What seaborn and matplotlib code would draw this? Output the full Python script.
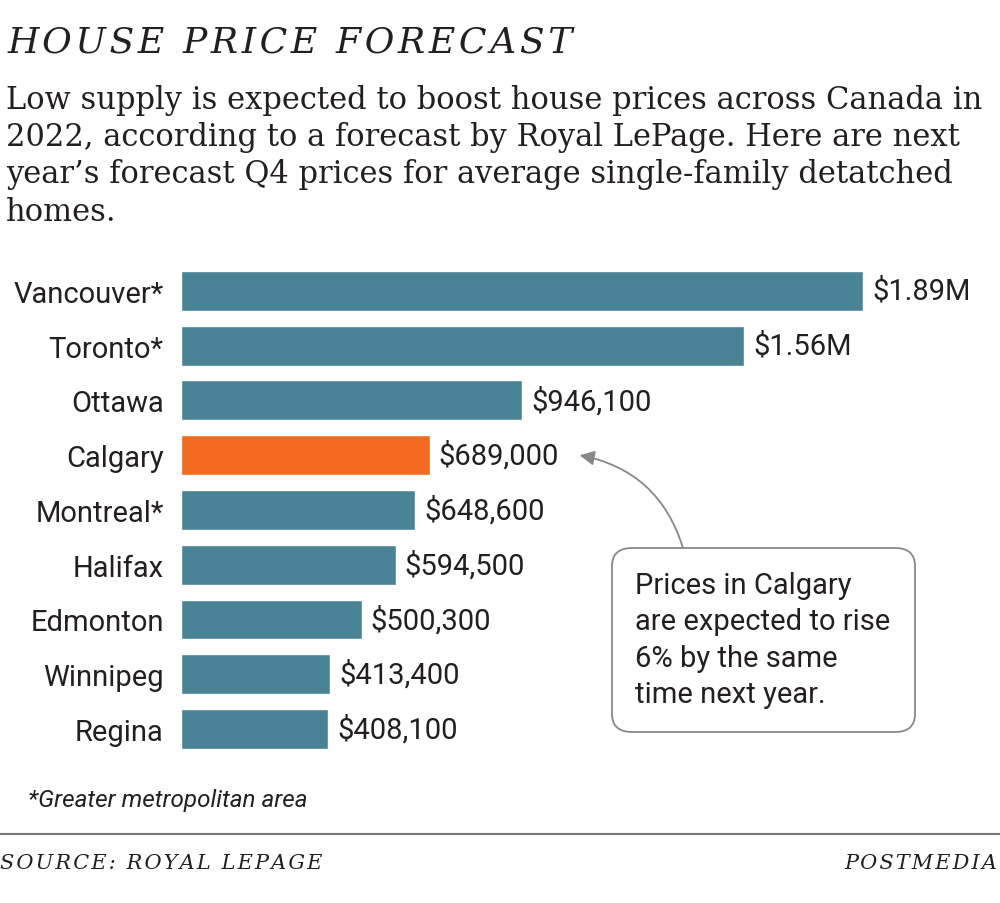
import matplotlib
matplotlib.use("Agg")
import matplotlib.pyplot as plt
from matplotlib.patches import FancyBboxPatch
import seaborn as sns
import pandas as pd

cities = ["Vancouver*", "Toronto*", "Ottawa", "Calgary", "Montreal*", "Halifax",
          "Edmonton", "Winnipeg", "Regina"]
prices = [1890000, 1560000, 946100, 689000, 648600, 594500, 500300, 413400, 408100]
labels = ["$1.89M", "$1.56M", "$946,100", "$689,000", "$648,600", "$594,500",
          "$500,300", "$413,400", "$408,100"]
highlight = "Calgary"

TEAL = "#4a8396"
ORANGE = "#f26b21"
INK = "#231f20"
SANS = ["Liberation Sans Narrow", "Roboto", "DejaVu Sans"]
SERIF = ["DejaVu Serif"]

sns.set_theme(style="white")
plt.rcParams["font.family"] = SANS

df = pd.DataFrame({"city": cities, "price": prices})
palette = {c: (ORANGE if c == highlight else TEAL) for c in cities}

fig = plt.figure(figsize=(10, 9.04), dpi=100)
ax = fig.add_axes([0.181, 0.1622, 0.80, 0.5451])
sns.barplot(data=df, y="city", x="price", hue="city", palette=palette,
            order=cities, hue_order=cities, legend=False, width=0.73,
            saturation=1, ax=ax, orient="h")
ax.set_xlim(0, 1.89e6 * 800 / 682)
ax.set_ylim(8.5, -0.5)
ax.set_xlabel("")
ax.set_ylabel("")
ax.set_xticks([])
for s in ax.spines.values():
    s.set_visible(False)
ax.tick_params(axis="y", length=0, pad=12.5, labelsize=21, labelcolor=INK)
for t in ax.get_yticklabels():
    t.set_fontfamily(SANS)

allbars = [b for c in ax.containers for b in c]
for bar in allbars:
    yc = bar.get_y() + bar.get_height() / 2
    i = int(round(yc))
    ax.text(bar.get_width() + 1.89e6 * 9 / 682, yc, labels[i], va="center",
            ha="left", fontsize=21, color=INK, family=SANS)

def spaced(s, sep="\u200a"):
    return sep.join(s)

fig.text(0.008, 0.953, spaced("HOUSE PRICE FORECAST"), family=SERIF,
         style="italic", fontsize=26, color=INK, va="center", ha="left")
sub = ("Low supply is expected to boost house prices across Canada in\n"
       "2022, according to a forecast by Royal LePage. Here are next\n"
       "year\u2019s forecast Q4 prices for average single-family detatched\n"
       "homes.")
fig.text(0.006, 1 - 85 / 904, sub, family=SERIF, fontsize=22, color=INK,
         va="top", ha="left", linespacing=1.26)

fig.text(0.028, 0.115, "*Greater metropolitan area", family=SANS,
         style="italic", fontsize=17.5, color=INK, va="center", ha="left")
fig.add_artist(plt.Line2D([0, 1], [1 - 835 / 904] * 2, color="#777777", lw=1.5,
                          transform=fig.transFigure))
fig.text(0.0, 1 - 864 / 904, spaced("SOURCE: ROYAL LEPAGE"), family=SERIF,
         style="italic", fontsize=15, color=INK, va="center", ha="left")
fig.text(0.997, 1 - 864 / 904, spaced("POSTMEDIA"), family=SERIF,
         style="italic", fontsize=15, color=INK, va="center", ha="right")

# annotation box
bx0, by0, bx1, by1 = 612, 549, 915, 733
box = FancyBboxPatch((bx0 / 1000, 1 - by1 / 904), (bx1 - bx0) / 1000,
                     (by1 - by0) / 904, boxstyle="round,pad=0,rounding_size=0.02",
                     transform=fig.transFigure, facecolor="white",
                     edgecolor="#888888", lw=1.3)
fig.add_artist(box)
fig.text(635 / 1000, 1 - 572 / 904,
         "Prices in Calgary\nare expected to rise\n6% by the same\ntime next year.",
         family=SANS, fontsize=21, color=INK, va="top", ha="left",
         linespacing=1.38)

ci = cities.index(highlight)
ax.annotate("", xy=(prices[ci] + 1.89e6 * 150 / 682, ci),
            xycoords="data",
            xytext=(683 / 1000, 1 - 549 / 904), textcoords="figure fraction",
            arrowprops=dict(arrowstyle="-|>", color="#888888", lw=1.3,
                            mutation_scale=22,
                            connectionstyle="arc3,rad=0.3",
                            shrinkA=0, shrinkB=0))

fig.savefig("out.png", dpi=100, facecolor="white")
